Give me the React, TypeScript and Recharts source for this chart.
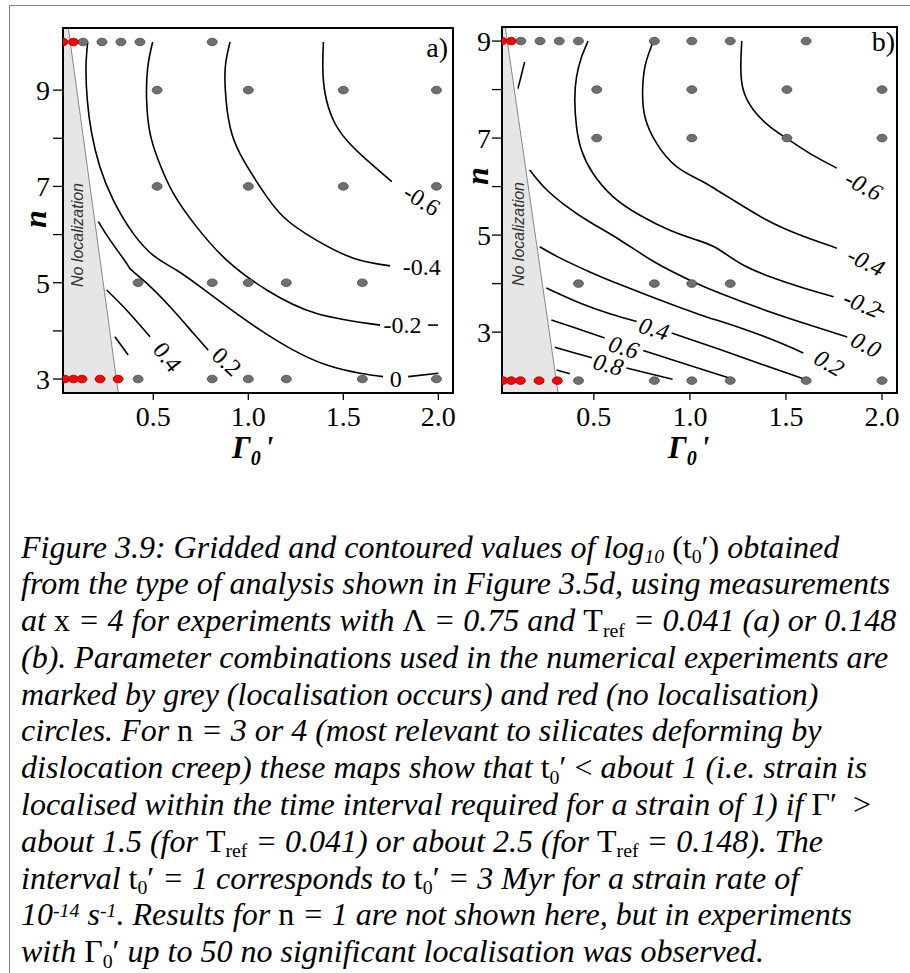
import React from 'react';
import { ComposedChart, XAxis, YAxis, Line, Area, Scatter, ReferenceArea } from 'recharts';

const SERIF = '"Liberation Serif", "Times New Roman", serif';
const SANS = '"Liberation Sans", Arial, sans-serif';

type Pair = [number, number];
type Lbl = { g: number; n: number; text: string; angle: number };

// shared axis ticks (Γ0' along x, n along y)
const gammaTicks = [0.5, 1.0, 1.5, 2.0];
const nTicks = [3, 4, 5, 6, 7, 8, 9];

// ---------- map (a): T_ref = 0.041 ----------
const aGammaDomain: Pair = [0.025, 2.077];
const aNDomain: Pair = [2.71, 10.29];

const aGrey: Pair[] = [
  [0.13, 10], [0.23, 10], [0.33, 10], [0.43, 10], [0.81, 10],
  [0.52, 9], [1.0, 9], [1.5, 9], [1.99, 9],
  [0.52, 7], [1.0, 7], [1.5, 7], [1.99, 7],
  [0.42, 5], [0.81, 5], [1.0, 5], [1.2, 5], [1.6, 5],
  [0.42, 3], [0.81, 3], [1.0, 3], [1.2, 3], [1.6, 3], [1.99, 3],
];
const aRed: Pair[] = [
  [0.025, 10], [0.08, 10],
  [0.035, 3], [0.08, 3], [0.125, 3], [0.22, 3], [0.315, 3],
];
const aShade: Pair[] = [[0.025, 10.29], [0.053, 10.29], [0.316, 2.71]];

const aContM06: Pair[] = [[1.395, 10.0], [1.392, 9.48], [1.404, 8.93], [1.447, 8.38], [1.518, 7.96], [1.623, 7.55], [1.755, 7.10]];
const aContM04: Pair[] = [[0.904, 10.0], [0.879, 9.48], [0.883, 8.79], [0.913, 8.10], [0.974, 7.55], [1.062, 6.99], [1.184, 6.37], [1.360, 5.88], [1.553, 5.51], [1.746, 5.35]];
const aContM02: Pair[] = [[0.497, 10.0], [0.471, 9.48], [0.465, 8.79], [0.483, 8.10], [0.526, 7.55], [0.605, 6.86], [0.728, 6.16], [0.886, 5.47], [1.097, 4.85], [1.36, 4.36], [1.693, 4.12]];
const aContM02Tail: Pair[] = [[1.946, 4.12], [1.998, 4.12]];
const aCont0: Pair[] = [[0.155, 10.0], [0.146, 9.48], [0.153, 8.79], [0.176, 8.10], [0.219, 7.41], [0.289, 6.72], [0.395, 6.02], [0.509, 5.54], [0.623, 5.26], [0.746, 4.92], [0.886, 4.51], [1.062, 4.02], [1.237, 3.60], [1.413, 3.29], [1.588, 3.12], [1.709, 3.05]];
const aCont0Tail: Pair[] = [[1.841, 3.05], [2.0, 3.12]];
const aCont02: Pair[] = [[0.211, 6.27], [0.272, 5.89], [0.36, 5.40], [0.386, 5.26], [0.465, 4.99], [0.588, 4.50], [0.711, 3.95], [0.789, 3.60]];
const aCont04: Pair[] = [[0.255, 4.85], [0.36, 4.43], [0.483, 3.88]];
const aCont06: Pair[] = [[0.298, 3.88], [0.368, 3.50]];

const aLabels: Lbl[] = [
  { g: 1.913, n: 6.716, text: '-0.6', angle: 32 },
  { g: 1.913, n: 5.33, text: '-0.4', angle: 0 },
  { g: 1.811, n: 4.12, text: '-0.2', angle: 0 },
  { g: 1.776, n: 3.01, text: '0', angle: 0 },
  { g: 0.886, n: 3.36, text: '0.2', angle: 43 },
  { g: 0.574, n: 3.46, text: '0.4', angle: 52 },
];

// ---------- map (b): T_ref = 0.148 ----------
const bGammaDomain: Pair = [0.022, 2.078];
const bNDomain: Pair = [1.745, 9.29];

const bGrey: Pair[] = [
  [0.12, 9], [0.22, 9], [0.32, 9], [0.42, 9], [0.815, 9], [1.01, 9], [1.21, 9], [1.605, 9],
  [0.515, 8], [1.01, 8], [1.505, 8], [2.0, 8],
  [0.515, 7], [1.01, 7], [1.505, 7], [2.0, 7],
  [0.42, 4], [0.815, 4], [1.01, 4], [1.21, 4],
  [0.42, 2], [0.815, 2], [1.01, 2], [1.21, 2], [1.605, 2], [2.0, 2],
];
const bRed: Pair[] = [
  [0.022, 9], [0.07, 9],
  [0.027, 2], [0.07, 2], [0.118, 2], [0.215, 2], [0.31, 2],
];
const bShade: Pair[] = [[0.022, 9.29], [0.039, 9.29], [0.314, 1.745]];

const bContM06: Pair[] = [[1.270, 9.0], [1.265, 8.46], [1.278, 7.99], [1.331, 7.58], [1.418, 7.23], [1.505, 6.99], [1.626, 6.68], [1.765, 6.38]];
const bContM04: Pair[] = [[0.809, 9.0], [0.792, 8.81], [0.766, 8.47], [0.754, 7.99], [0.766, 7.44], [0.827, 6.89], [0.931, 6.41], [1.053, 6.13], [1.140, 5.93], [1.226, 5.72], [1.400, 5.31], [1.574, 5.00], [1.765, 4.73]];
const bContM02: Pair[] = [[0.470, 9.0], [0.436, 8.67], [0.410, 8.26], [0.401, 7.78], [0.410, 7.23], [0.436, 6.75], [0.496, 6.27], [0.601, 5.79], [0.740, 5.41], [0.896, 5.10], [1.035, 4.90], [1.140, 4.73], [1.261, 4.42], [1.418, 4.14], [1.591, 3.91], [1.748, 3.73]];
const bContM02Tail: Pair[] = [[1.981, 3.46], [2.012, 3.41]];
const bCont00: Pair[] = [[0.166, 6.34], [0.245, 5.97], [0.349, 5.62], [0.479, 5.27], [0.636, 4.90], [0.818, 4.44], [1.011, 4.05], [1.157, 3.80], [1.365, 3.49], [1.574, 3.21], [1.819, 2.90]];
const bCont00Stub: Pair[] = [[0.140, 8.57], [0.105, 8.02]];
const bCont02: Pair[] = [[0.218, 4.76], [0.323, 4.53], [0.479, 4.24], [0.636, 3.98], [0.844, 3.66], [1.052, 3.36], [1.261, 3.09], [1.469, 2.78], [1.590, 2.57]];
const bCont04Head: Pair[] = [[0.253, 3.91], [0.427, 3.60], [0.583, 3.38], [0.723, 3.22]];
const bCont04Tail: Pair[] = [[0.905, 2.98], [1.157, 2.64], [1.365, 2.35], [1.591, 2.04]];
const bCont06Head: Pair[] = [[0.279, 3.25], [0.401, 3.09], [0.557, 2.88]];
const bCont06Tail: Pair[] = [[0.757, 2.62], [1.0, 2.31], [1.209, 2.05]];
const bCont08Head: Pair[] = [[0.297, 2.69], [0.401, 2.57], [0.490, 2.47]];
const bCont08Tail: Pair[] = [[0.670, 2.26], [0.792, 2.14], [0.910, 2.03]];
const bCont10: Pair[] = [[0.306, 2.22], [0.375, 2.14]];

const bLabels: Lbl[] = [
  { g: 1.904, n: 6.02, text: '-0.6', angle: 28 },
  { g: 1.917, n: 4.45, text: '-0.4', angle: 26 },
  { g: 1.896, n: 3.58, text: '-0.2', angle: 22 },
  { g: 1.917, n: 2.74, text: '0.0', angle: 27 },
  { g: 1.725, n: 2.36, text: '0.2', angle: 30 },
  { g: 0.813, n: 3.07, text: '0.4', angle: 17 },
  { g: 0.656, n: 2.69, text: '0.6', angle: 17 },
  { g: 0.575, n: 2.33, text: '0.8', angle: 15 },
];

const toPts = (arr: Pair[]) => arr.map(([g, n]) => ({ g, n }));

const makeDot = (fill: string, stroke: string) => (p: any) =>
  <ellipse cx={p.cx} cy={p.cy} rx={5} ry={3.8} fill={fill} stroke={stroke} strokeWidth={0.8} />;

const makeLabel = (italic: boolean) => (p: any) => {
  const { cx, cy, payload } = p;
  return (
    <text
      x={cx}
      y={cy}
      transform={`rotate(${payload.angle} ${cx} ${cy})`}
      textAnchor="middle"
      dominantBaseline="central"
      fontFamily={SERIF}
      fontStyle={italic ? 'italic' : 'normal'}
      fontSize={24}
      fill="#000"
    >
      {payload.text}
    </text>
  );
};

type MapProps = {
  width: number;
  height: number;
  margin: { top: number; right: number; bottom: number; left: number };
  yAxisWidth: number;
  yTickMargin: number;
  gammaDomain: Pair;
  nDomain: Pair;
  shade: Pair[];
  contours: Pair[][];
  labels: Lbl[];
  grey: Pair[];
  red: Pair[];
  italicLabels: boolean;
};

function ContourMap(props: MapProps) {
  const { gammaDomain, nDomain } = props;
  return (
    <ComposedChart width={props.width} height={props.height} margin={props.margin}>
      <XAxis
        type="number"
        dataKey="g"
        domain={gammaDomain}
        allowDataOverflow
        ticks={gammaTicks}
        interval={0}
        tickFormatter={(v: number) => v.toFixed(1)}
        height={77}
        tickSize={7}
        tickMargin={6}
        axisLine={{ stroke: '#000', strokeWidth: 2 }}
        tickLine={{ stroke: '#000', strokeWidth: 1.3 }}
        tick={{ fontFamily: SERIF, fontSize: 28, fill: '#000' }}
      />
      <YAxis
        type="number"
        dataKey="n"
        domain={nDomain}
        allowDataOverflow
        ticks={nTicks}
        interval={0}
        tickFormatter={(v: number) => (v % 2 === 1 ? String(v) : '')}
        width={props.yAxisWidth}
        tickSize={10}
        tickMargin={props.yTickMargin}
        axisLine={{ stroke: '#000', strokeWidth: 2 }}
        tickLine={{ stroke: '#000', strokeWidth: 1.3 }}
        tick={{ fontFamily: SERIF, fontSize: 28, fill: '#000' }}
      />
      <Area
        data={toPts(props.shade)}
        dataKey="n"
        type="linear"
        baseValue={nDomain[0]}
        fill="#e6e6e6"
        fillOpacity={1}
        stroke="#7a7a7a"
        strokeWidth={0.9}
        dot={false}
        activeDot={false}
        isAnimationActive={false}
      />
      {props.contours.map((seg, i) => (
        <Line
          key={`c${i}`}
          data={toPts(seg)}
          dataKey="n"
          type="natural"
          stroke="#000"
          strokeWidth={1.6}
          dot={false}
          activeDot={false}
          isAnimationActive={false}
        />
      ))}
      <Scatter data={props.labels} dataKey="n" shape={makeLabel(props.italicLabels)} isAnimationActive={false} />
      <Scatter data={toPts(props.grey)} dataKey="n" shape={makeDot('#6f6f6f', '#4a4a4a')} isAnimationActive={false} />
      <Scatter data={toPts(props.red)} dataKey="n" shape={makeDot('#ff0000', '#8a0000')} isAnimationActive={false} />
      <ReferenceArea
        x1={gammaDomain[0]}
        x2={gammaDomain[1]}
        y1={nDomain[0]}
        y2={nDomain[1]}
        fill="none"
        fillOpacity={0}
        stroke="#000"
        strokeWidth={2}
        ifOverflow="visible"
      />
    </ComposedChart>
  );
}

const up = (s: React.ReactNode) => <span style={{ fontStyle: 'normal' }}>{s}</span>;
const sub = (s: React.ReactNode, upright = false) => (
  <span style={{ fontSize: '0.62em', position: 'relative', top: '0.28em', fontStyle: upright ? 'normal' : 'italic' }}>{s}</span>
);
const sup = (s: React.ReactNode) => (
  <span style={{ fontSize: '0.62em', position: 'relative', top: '-0.45em' }}>{s}</span>
);
const t0 = up(<>t{sub('0', true)}′</>);
const tref = up(<>T{sub('ref', true)}</>);

const captionLines: React.ReactNode[] = [
  <>Figure 3.9: Gridded and contoured values of log{sub('10')} {up(<>(t{sub('0', true)}′)</>)} obtained</>,
  <>from the type of analysis shown in Figure 3.5d, using measurements</>,
  <>at {up('x')} = 4 for experiments with {up('Λ')} = 0.75 and {tref} = 0.041 (a) or 0.148</>,
  <>(b). Parameter combinations used in the numerical experiments are</>,
  <>marked by grey (localisation occurs) and red (no localisation)</>,
  <>circles. For {up('n')} = 3 or 4 (most relevant to silicates deforming by</>,
  <>dislocation creep) these maps show that {t0} {up('<')} about 1 (i.e. strain is</>,
  <>localised within the time interval required for a strain of 1) if {up('Γ′')}&nbsp; {up('>')}</>,
  <>about 1.5 (for {tref} = 0.041) or about 2.5 (for {tref} = 0.148). The</>,
  <>interval {t0} = 1 corresponds to {t0} = 3 Myr for a strain rate of</>,
  <>10{sup('-14')} s{sup('-1')}. Results for {up('n')} = 1 are not shown here, but in experiments</>,
  <>with {up(<>Γ{sub('0', true)}′</>)} up to 50 no significant localisation was observed.</>,
];

function GammaTitle({ x }: { x: number }) {
  return (
    <text x={x} y={458} fontFamily={SERIF} fontStyle="italic" fontWeight="bold" fontSize={31} fill="#000">
      Γ
      <tspan fontSize={20} dy={7}>0</tspan>
      <tspan fontSize={31} dy={-7} dx={4}>'</tspan>
    </text>
  );
}

function NTitle({ x, y }: { x: number; y: number }) {
  return (
    <text
      x={x}
      y={y}
      transform={`rotate(-90 ${x} ${y})`}
      textAnchor="middle"
      dominantBaseline="central"
      fontFamily={SERIF}
      fontStyle="italic"
      fontWeight="bold"
      fontSize={32}
      fill="#000"
    >
      n
    </text>
  );
}

function ShadeNote({ x, y }: { x: number; y: number }) {
  return (
    <text
      x={x}
      y={y}
      transform={`rotate(-90 ${x} ${y})`}
      textAnchor="middle"
      dominantBaseline="central"
      fontFamily={SANS}
      fontStyle="italic"
      fontSize={16}
      fill="#333"
    >
      No localization
    </text>
  );
}

export default function App() {
  return (
    <div style={{ position: 'absolute', left: 0, top: 0, width: 910, height: 973, background: '#fff', overflow: 'hidden' }}>
      <div style={{ position: 'absolute', left: 9, top: 5, width: 901, height: 968, borderTop: '1px solid #808080', borderLeft: '1px solid #808080' }} />
      <div style={{ position: 'absolute', left: 0, top: 0 }}>
        <ContourMap
          width={460}
          height={470}
          margin={{ top: 28, right: 7, bottom: 0, left: 0 }}
          yAxisWidth={63}
          yTickMargin={3}
          gammaDomain={aGammaDomain}
          nDomain={aNDomain}
          shade={aShade}
          contours={[aContM06, aContM04, aContM02, aContM02Tail, aCont0, aCont0Tail, aCont02, aCont04, aCont06]}
          labels={aLabels}
          grey={aGrey}
          red={aRed}
          italicLabels={false}
        />
      </div>
      <div style={{ position: 'absolute', left: 455, top: 0 }}>
        <ContourMap
          width={455}
          height={470}
          margin={{ top: 27, right: 13, bottom: 0, left: 0 }}
          yAxisWidth={47}
          yTickMargin={1}
          gammaDomain={bGammaDomain}
          nDomain={bNDomain}
          shade={bShade}
          contours={[bContM06, bContM04, bContM02, bContM02Tail, bCont00, bCont00Stub, bCont02, bCont04Head, bCont04Tail, bCont06Head, bCont06Tail, bCont08Head, bCont08Tail, bCont10]}
          labels={bLabels}
          grey={bGrey}
          red={bRed}
          italicLabels={true}
        />
      </div>
      <svg width={910} height={480} style={{ position: 'absolute', left: 0, top: 0, pointerEvents: 'none' }}>
        <NTitle x={35} y={219} />
        <NTitle x={477} y={176} />
        <GammaTitle x={232} />
        <GammaTitle x={668} />
        <ShadeNote x={77} y={235} />
        <ShadeNote x={518} y={234} />
        <text x={448} y={57} textAnchor="end" fontFamily={SERIF} fontSize={28} fill="#000">a)</text>
        <text x={895} y={51} textAnchor="end" fontFamily={SERIF} fontSize={28} fill="#000">b)</text>
      </svg>
      <div
        style={{
          position: 'absolute',
          left: 21,
          top: 528.5,
          fontFamily: SERIF,
          fontStyle: 'italic',
          fontSize: 32,
          lineHeight: '36.8px',
          color: '#000',
          whiteSpace: 'nowrap',
        }}
      >
        {captionLines.map((ln, i) => (
          <div key={i} style={{ height: 36.8 }}>{ln}</div>
        ))}
      </div>
    </div>
  );
}
